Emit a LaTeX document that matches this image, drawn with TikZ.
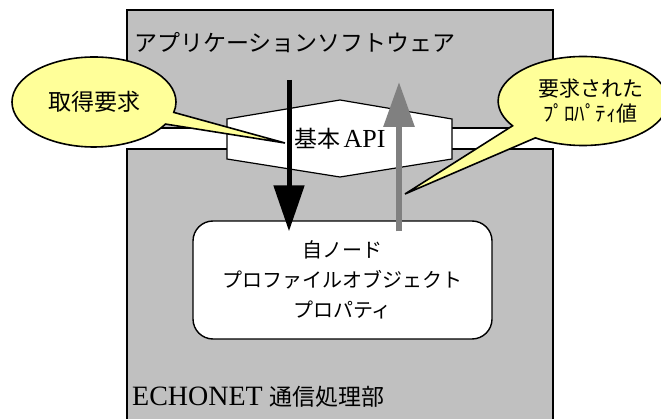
\documentclass[tikz,border=0pt]{standalone}
\usepackage{fontspec}
\setmainfont{Liberation Serif}
\newfontfamily\jp{Noto Sans CJK JP}
\newfontfamily\lserif{Liberation Serif}
\usetikzlibrary{arrows.meta,shapes.callouts}
\definecolor{boxgray}{HTML}{C0C0C0}
\definecolor{bubble}{HTML}{FFFF99}
\definecolor{retgray}{HTML}{808080}
\tikzset{
  layerbox/.style={fill=boxgray,draw=black,line width=1.4pt},
  apihex/.style={fill=white,draw=black,line width=1.2pt},
  objbox/.style={draw=black,fill=white,line width=1.4pt,rounded corners=20pt,
    minimum width=299pt,minimum height=118pt,inner sep=0pt,align=center,
    font=\jp\fontsize{20}{30}\selectfont},
  speech/.style={ellipse callout,draw=black,fill=bubble,line width=1.6pt,
    inner sep=0pt,align=center},
  reqarrow/.style={draw=black,line width=5pt,-{Triangle[width=30pt,length=46pt]}},
  resarrow/.style={draw=retgray,line width=6pt,-{Triangle[width=30pt,length=45pt]}},
  lbl/.style={inner sep=0pt}
}
\begin{document}
\begin{tikzpicture}[x=1pt,y=-1pt]
\useasboundingbox (0,0) rectangle (661,419);
% application layer
\draw[layerbox] (127,10) rectangle (553,128);
\node[lbl,anchor=west,font=\jp\fontsize{23}{27}\selectfont] (app) at (134,43) {アプリケーションソフトウェア};
% communication layer (open at the bottom)
\fill[boxgray] (127,149) rectangle (553,425);
\draw[black,line width=1.4pt] (127,425) -- (127,149) -- (553,149) -- (553,425);
\node[lbl,anchor=base west] (comm) at (132,405)
  {{\lserif\fontsize{28}{28}\selectfont ECHONET}\hspace{7pt}{\jp\fontsize{23}{23}\selectfont 通信処理部}};
% basic API
\draw[apihex] (227,119) -- (340,100) -- (452,119) -- (452,159) -- (340,177) -- (227,159) -- cycle;
\node[lbl] (api) at (340,139)
  {{\jp\fontsize{23}{23}\selectfont 基本}\hspace{3pt}{\lserif\fontsize{26}{26}\selectfont API}};
% node profile object
\node[objbox] (prof) at (342.5,280) {自ノード\\プロファイルオブジェクト\\プロパティ};
% request / response arrows
\coordinate (reqstart) at (289,80);
\coordinate (resend) at (399,82);
\draw[reqarrow] (reqstart) -- (reqstart |- prof.north) [shorten >=-11pt];
\draw[resarrow,shorten <=-11pt] (resend |- prof.north) -- (resend);
% speech bubbles
\node[speech,minimum width=164pt,minimum height=90pt,
  callout absolute pointer={(285,143)},callout pointer arc=16,
  font=\jp\fontsize{23}{26}\selectfont] (getreq) at (94,102) {取得要求};
\node[speech,minimum width=156pt,minimum height=89pt,
  callout absolute pointer={(405,194)},callout pointer arc=22,
  font=\jp\fontsize{21}{25}\selectfont] (reply) at (583,101)
  {\hspace*{15pt}要求された\\\hspace*{15pt}ﾌﾟﾛﾊﾟﾃｨ値};
\end{tikzpicture}
\end{document}
